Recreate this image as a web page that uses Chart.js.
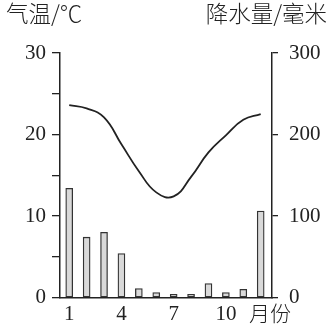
<!DOCTYPE html>
<html><head><meta charset="utf-8">
<script src="https://cdn.jsdelivr.net/npm/chart.js@4/dist/chart.umd.min.js"></script>
<style>html,body{margin:0;padding:0;background:#fff;}#wrap{width:332px;height:330px;position:relative;}</style>
</head><body><div id="wrap"><canvas id="c" width="332" height="330"></canvas></div>
<script>
const months = [1,2,3,4,5,6,7,8,9,10,11,12];
const precipitation = [134, 74, 80, 54, 11, 6, 4, 4, 17, 6, 10, 106];
const temperature = [23.6, 23.2, 22.1, 18.8, 15.5, 12.9, 12.4, 14.8, 17.8, 19.9, 21.8, 22.5];
const xTickLabels = [1, 4, 7, 10];
const leftTitle = '气温/℃';
const rightTitle = '降水量/毫米';
const xUnit = '月份';

const serif = "'Liberation Serif', 'DejaVu Serif', serif";
const cjk = "'Noto Sans CJK SC', sans-serif";
const ink = '#222';

const textPlugin = {
  id: 'texts',
  afterDraw(chart) {
    const ctx = chart.ctx;
    ctx.save();
    ctx.fillStyle = ink;
    ctx.textBaseline = 'middle';
    ctx.font = "300 22.5px " + cjk;
    ctx.textAlign = 'left';
    ctx.fillText(leftTitle, 6, 13);
    ctx.textAlign = 'right';
    ctx.fillText(rightTitle, 327, 13);
    ctx.font = "300 21px " + cjk;
    ctx.textAlign = 'left';
    ctx.fillText(xUnit, 249, 313);
    ctx.restore();
  }
};

new Chart(document.getElementById('c'), {
  type: 'bar',
  data: {
    datasets: [
      {
        type: 'line',
        label: leftTitle,
        data: months.map((m, i) => ({x: m, y: temperature[i]})),
        yAxisID: 'yT',
        borderColor: ink,
        borderWidth: 1.8,
        pointRadius: 0,
        tension: 0.45,
        fill: false,
        order: 0
      },
      {
        type: 'bar',
        label: rightTitle,
        data: months.map((m, i) => ({x: m, y: precipitation[i]})),
        yAxisID: 'yP',
        backgroundColor: '#d9d9d9',
        borderColor: '#333',
        borderWidth: 1.3,
        borderSkipped: false,
        barThickness: 7,
        order: 1
      }
    ]
  },
  options: {
    responsive: false,
    animation: false,
    layout: {padding: {top: 53, left: 0, right: 0, bottom: 0}},
    plugins: {legend: {display: false}, tooltip: {enabled: false}},
    scales: {
      x: {
        type: 'linear',
        offset: false,
        min: 0.47,
        max: 12.65,
        afterFit(s) { s.height = 32.5; },
        afterBuildTicks(s) { s.ticks = xTickLabels.map(v => ({value: v})); },
        ticks: {
          autoSkip: false,
          maxRotation: 0,
          padding: 4,
          color: ink,
          font: {family: serif, size: 21},
          callback: (v) => String(v)
        },
        grid: {display: false, drawTicks: false, offset: false},
        border: {display: true, color: ink, width: 1.5}
      },
      yT: {
        type: 'linear',
        position: 'left',
        min: 0,
        max: 30,
        afterFit(s) { s.width = 60; },
        ticks: {
          stepSize: 5,
          padding: 6,
          color: ink,
          font: {family: serif, size: 21},
          callback: (v) => (v % 10 === 0 ? String(v) : '')
        },
        grid: {drawOnChartArea: false, drawTicks: true, tickLength: 8, color: ink, lineWidth: 1.3},
        border: {display: true, color: ink, width: 1.5}
      },
      yP: {
        type: 'linear',
        position: 'right',
        min: 0,
        max: 300,
        afterFit(s) { s.width = 60; },
        ticks: {
          stepSize: 100,
          padding: 11,
          color: ink,
          font: {family: serif, size: 21},
          callback: (v) => String(v)
        },
        grid: {drawOnChartArea: false, drawTicks: true, tickLength: 6, color: ink, lineWidth: 1.3},
        border: {display: true, color: ink, width: 1.5}
      }
    }
  },
  plugins: [textPlugin]
});
</script>
</body></html>
